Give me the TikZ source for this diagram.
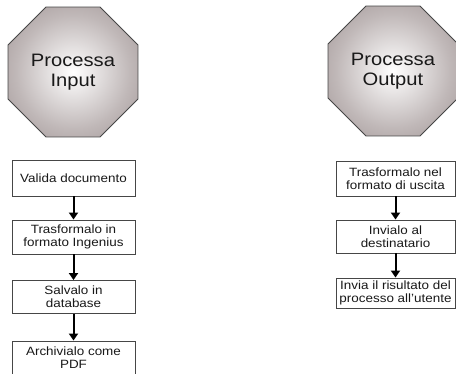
\documentclass[tikz,border=0pt]{standalone}
\usepackage{fontspec}
\setmainfont[FakeStretch=1.12]{Liberation Sans}
\usetikzlibrary{shapes.geometric,arrows.meta}
\definecolor{octdark}{RGB}{128,114,115}
\definecolor{octmid}{RGB}{192,184,184}
\definecolor{edgegray}{RGB}{70,70,70}
\pgfdeclareradialshading{octshade}{\pgfpoint{0bp}{0bp}}{color(0bp)=(white); color(22bp)=(octmid); color(50bp)=(octdark)}

\begin{document}
\begin{tikzpicture}[
  octagon/.style={draw=edgegray,line width=0.9pt,regular polygon,regular polygon sides=8,minimum size=140.7pt,inner sep=0pt,shading=octshade,align=center,text=black!90,font=\fontsize{18}{20.5}\selectfont},
  stepbox/.style={draw=edgegray,line width=0.9pt,fill=white,align=center,inner sep=1pt,text=black!90,font=\fontsize{12}{13}\selectfont},
  flow/.style={-{Triangle[width=9pt,length=7pt]},line width=2pt}]

\clip (0pt,0pt) rectangle (456pt,-374pt);

\node (PIn) at (73pt,-72pt)[octagon] {Processa\\Input};
\node (POut) at (393pt,-71pt)[octagon] {Processa\\Output};

\node (I1) at (73.5pt,-178pt)[stepbox,minimum width=123pt,minimum height=36pt] {Valida documento};
\node (I2) at (73.5pt,-237pt)[stepbox,minimum width=123pt,minimum height=34pt] {Trasformalo in\\formato Ingenius};
\node (I3) at (73.5pt,-297pt)[stepbox,minimum width=123pt,minimum height=33pt] {Salvalo in\\database};
\node (I4) at (73.5pt,-358pt)[stepbox,minimum width=123pt,minimum height=34pt] {Archivialo come\\PDF};

\node (O1) at (395.5pt,-178.5pt)[stepbox,minimum width=119pt,minimum height=35pt] {Trasformalo nel\\formato di uscita};
\node (O2) at (395.5pt,-236.5pt)[stepbox,minimum width=119pt,minimum height=33pt] {Invialo al\\destinatario};
\node (O3) at (395.5pt,-293pt)[stepbox,minimum width=119pt,minimum height=30pt] {Invia il risultato del\\processo all'utente};

\draw [flow] (I1) -- (I2);
\draw [flow] (I2) -- (I3);
\draw [flow] (I3) -- (I4);
\draw [flow] (O1) -- (O2);
\draw [flow] (O2) -- (O3);
\end{tikzpicture}
\end{document}
